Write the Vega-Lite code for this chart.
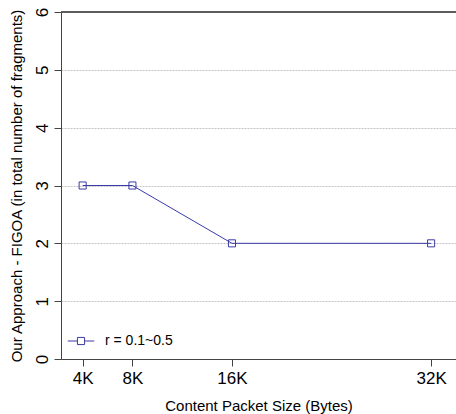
{
  "$schema": "https://vega.github.io/schema/vega-lite/v6.json",
  "autosize": "none",
  "width": 395,
  "height": 347,
  "padding": {"left": 61, "top": 12, "right": 0, "bottom": 55},
  "background": "white",
  "config": {
    "view": {"stroke": null},
    "font": "Liberation Sans",
    "axis": {"labelFont": "Liberation Sans", "titleFont": "Liberation Sans", "titleFontWeight": "normal", "labelColor": "black", "titleColor": "black", "domainColor": "#444", "tickColor": "#444", "domainWidth": 1, "tickWidth": 1}
  },
  "data": {"values": [
    {"size": 4, "frag": 3, "series": "r = 0.1~0.5"},
    {"size": 8, "frag": 3, "series": "r = 0.1~0.5"},
    {"size": 16, "frag": 2, "series": "r = 0.1~0.5"},
    {"size": 32, "frag": 2, "series": "r = 0.1~0.5"}
  ]},
  "layer": [
    {
      "mark": {"type": "line", "strokeWidth": 1, "clip": true},
      "encoding": {
        "x": {"field": "size", "type": "quantitative", "scale": {"domain": [2.26, 34], "nice": false, "zero": false},
          "axis": {"values": [4, 8, 16, 32], "labelExpr": "datum.value + 'K'", "labelFontSize": 17, "tickSize": 7, "labelPadding": 4, "grid": false, "title": "Content Packet Size (Bytes)", "titleFontSize": 15, "titlePadding": 12}},
        "y": {"field": "frag", "type": "quantitative", "scale": {"domain": [0, 6], "nice": false},
          "axis": {"values": [0, 1, 2, 3, 4, 5, 6], "format": "d", "labelAngle": -90, "labelFontSize": 17, "tickSize": 7, "labelPadding": 3, "grid": true, "gridColor": "#c4c4c4", "gridDash": [2, 1], "gridWidth": 1, "title": "Our Approach - FIGOA (in total number of fragments)", "titleFontSize": 15, "titlePadding": 9}},
        "color": {"field": "series", "type": "nominal", "scale": {"range": ["#3a3aa8"]},
          "legend": {"title": null, "orient": "none", "legendX": 6, "legendY": 315, "symbolType": "M-1,0H-0.27M0.27,0H1M-0.27,-0.27H0.27V0.27H-0.27Z", "symbolSize": 700, "symbolStrokeWidth": 1, "symbolFillColor": "transparent", "symbolOpacity": 1, "labelFontSize": 14, "labelFont": "Liberation Sans", "labelColor": "black", "labelOffset": 10}}
      }
    },
    {
      "mark": {"type": "point", "shape": "square", "filled": false, "size": 50, "strokeWidth": 1, "opacity": 1},
      "encoding": {
        "x": {"field": "size", "type": "quantitative"},
        "y": {"field": "frag", "type": "quantitative"},
        "color": {"field": "series", "type": "nominal"}
      }
    },
    {
      "mark": {"type": "rule", "color": "#555", "strokeWidth": 1},
      "encoding": {"y": {"datum": 6, "type": "quantitative"}}
    }
  ]
}
